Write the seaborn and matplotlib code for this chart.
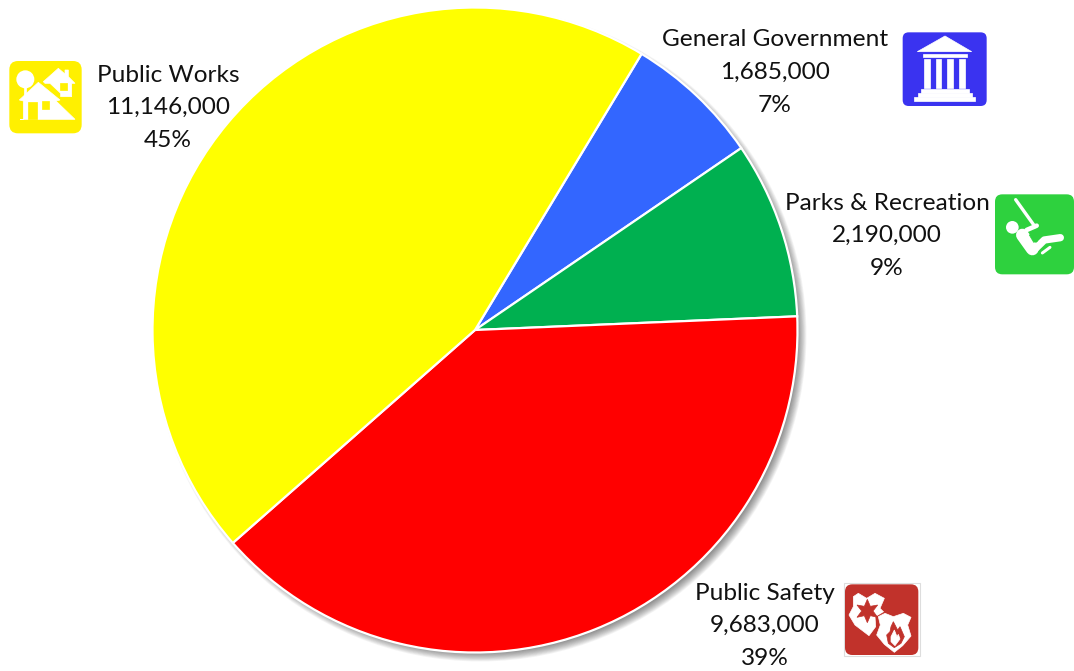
import matplotlib
matplotlib.use("Agg")
import matplotlib.pyplot as plt
import seaborn as sns
from matplotlib.patches import Circle, FancyBboxPatch, Polygon

# Budget by department
departments = ["General Government", "Parks & Recreation", "Public Safety", "Public Works"]
amounts = [1685000, 2190000, 9683000, 11146000]
slice_colors = ["#3366FF", "#00B050", "#FF0000", "#FFFF00"]

# Label centres (x, first line y) in pixels from the top left
label_centres = [(775, 40), (887, 203), (765, 593), (168, 75)]

W, H = 1074, 671
sns.set_theme(style="white")
plt.rcParams["font.family"] = ["Lato", "DejaVu Sans"]

fig = plt.figure(figsize=(W / 100, H / 100), dpi=100, facecolor="white")
ax = fig.add_axes([0, 0, 1, 1])

CX, CY, R = 475, H - 330, 322.5

# Soft drop shadow under the pie
for i in range(12):
    ax.add_patch(Circle((CX + 5, CY - 5), R + 4 - i * 0.8, fc="black", ec="none",
                        alpha=0.045, zorder=1))

ax.pie(amounts, colors=sns.color_palette(slice_colors), startangle=58.9, counterclock=False,
       center=(CX, CY), radius=R, frame=True,
       wedgeprops={"edgecolor": "white", "linewidth": 1.6, "zorder": 2})

ax.set_xlim(0, W)
ax.set_ylim(0, H)
ax.set_aspect("equal")
ax.axis("off")

total = sum(amounts)
for name, value, (x, y) in zip(departments, amounts, label_centres):
    for k, line in enumerate([name, f"{value:,}", f"{round(value / total * 100)}%"]):
        ax.text(x, H - (y + k * 32.8), line, ha="center", va="center", fontsize=17.6,
                color="#111111", zorder=5)


def to_px(origin, pts):
    return [(origin[0] + px / 3, H - (origin[1] + py / 3)) for px, py in pts]


def poly(origin, pts, color="white"):
    ax.add_patch(Polygon(to_px(origin, pts), closed=True, fc=color, ec=color, lw=0.5, zorder=7))


def box(origin, x0, y0, x1, y1, color="white"):
    poly(origin, [(x0, y0), (x1, y0), (x1, y1), (x0, y1)], color)


def disc(origin, x, y, r, color="white"):
    (cx, cy), = to_px(origin, [(x, y)])
    ax.add_patch(Circle((cx, cy), r / 3, fc=color, ec="none", zorder=7))


def stroke(origin, pts, width, color="white"):
    xy = to_px(origin, pts)
    ax.plot([p[0] for p in xy], [p[1] for p in xy], color=color, lw=width * 0.72 / 3,
            solid_capstyle="round", solid_joinstyle="round", zorder=7)


def tile(origin, x0, y0, x1, y1, color, rad=18, edge="none"):
    (a, b), (c, d) = to_px(origin, [(x0, y1), (x1, y0)])
    ax.add_patch(FancyBboxPatch((a + rad / 3, b + rad / 3), c - a - 2 * rad / 3, d - b - 2 * rad / 3,
                                boxstyle=f"round,pad={rad / 3}", fc=color, ec=edge, lw=0.8, zorder=6))


# Public Works tile: tree and two houses
o = (0, 50)
Y = "#FFF000"
tile(o, 28, 33, 245, 250, Y, rad=26)
disc(o, 76, 88, 27)
box(o, 72, 105, 79, 135)
poly(o, [(130, 95), (175, 55), (195, 72), (195, 60), (205, 60), (205, 80), (225, 100), (215, 100),
         (215, 140), (182, 140), (182, 130), (150, 100), (135, 100)])
box(o, 180, 98, 200, 120, Y)
poly(o, [(58, 150), (115, 97), (180, 150), (168, 153), (225, 208), (60, 208), (70, 208), (70, 153)])
box(o, 85, 155, 112, 208, Y)
box(o, 125, 153, 147, 178, Y)

# General Government tile: columned building
o = (895, 25)
B = "#3A33F0"
tile(o, 23, 22, 275, 243, B, rad=18)
poly(o, [(67, 80), (150, 33), (230, 80)])
box(o, 83, 87, 215, 97)
for x0 in (88, 122, 157, 192):
    box(o, x0, 102, x0 + 17, 190)
box(o, 78, 192, 222, 205)
box(o, 68, 205, 232, 216)
box(o, 58, 217, 240, 228)

# Parks & Recreation tile: child on a swing
o = (985, 185)
G = "#2ED13E"
tile(o, 30, 28, 267, 268, G, rad=22)
stroke(o, [(92, 44), (150, 125)], 10)
disc(o, 82, 127, 19)
stroke(o, [(112, 150), (142, 192)], 38)
stroke(o, [(125, 135), (155, 122)], 14)
stroke(o, [(150, 192), (178, 165), (226, 158)], 22)
stroke(o, [(172, 204), (195, 187)], 9)
poly(o, [(133, 150), (148, 143), (158, 168), (146, 172)], G)

# Public Safety tile: police and fire shields on a framed square
o = (835, 575)
C = "#C1322B"
(fx0, fy0), (fx1, fy1) = to_px(o, [(26, 244), (254, 24)])
ax.add_patch(plt.Rectangle((fx0, fy0), fx1 - fx0, fy1 - fy0, fc="white", ec="#DDDDDD", lw=0.8, zorder=5))
tile(o, 30, 28, 250, 240, C, rad=22)
poly(o, [(55, 65), (70, 55), (95, 70), (120, 55), (148, 70), (135, 100), (150, 115), (120, 125),
         (122, 155), (102, 182), (60, 150), (42, 120), (55, 95)])
poly(o, [(97, 73), (106, 94), (128, 90), (114, 108), (128, 127), (106, 122), (97, 143), (88, 122),
         (66, 127), (80, 108), (66, 90), (88, 94)], C)
poly(o, [(125, 125), (150, 110), (175, 120), (205, 110), (232, 125), (222, 150), (232, 185),
         (205, 215), (178, 236), (145, 212), (120, 180), (132, 150)], C)
poly(o, [(130, 125), (150, 115), (175, 125), (205, 115), (228, 127), (218, 150), (228, 183),
         (203, 212), (178, 232), (148, 208), (125, 180), (136, 150)])
poly(o, [(175, 140), (188, 165), (195, 155), (208, 185), (198, 205), (178, 218), (160, 205),
         (155, 180), (165, 170), (168, 155)], C)
poly(o, [(178, 165), (186, 185), (190, 178), (195, 192), (180, 212), (168, 200), (168, 185)])

fig.savefig("out.png", dpi=100, facecolor="white")
